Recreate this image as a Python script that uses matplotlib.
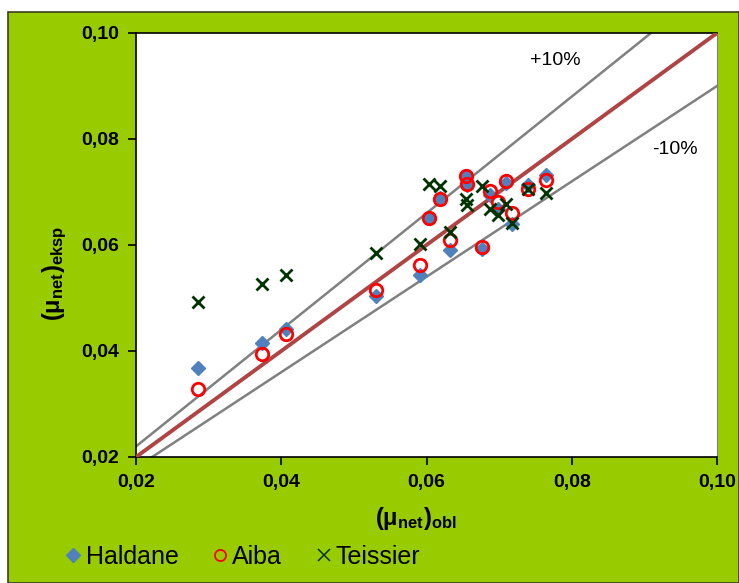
import matplotlib
matplotlib.use("Agg")
import matplotlib.pyplot as plt
from matplotlib.patches import Rectangle
from matplotlib.lines import Line2D
from matplotlib.ticker import FixedLocator, FuncFormatter

plt.rcParams['font.family'] = ['Liberation Sans', 'DejaVu Sans']
plt.rcParams['mathtext.fontset'] = 'custom'
plt.rcParams['mathtext.rm'] = 'Liberation Sans'
plt.rcParams['mathtext.bf'] = 'Liberation Sans:bold'
plt.rcParams['mathtext.it'] = 'Liberation Sans:italic'

# Data
mu_obl = [0.0286, 0.0373, 0.0407, 0.0531, 0.0591, 0.0603, 0.0618, 0.0632, 0.0655,
          0.0656, 0.0676, 0.0687, 0.0699, 0.0709, 0.0718, 0.0740, 0.0764]
haldane = [0.0367, 0.0415, 0.0442, 0.0504, 0.0544, 0.0651, 0.0688, 0.0590, 0.0731,
           0.0714, 0.0592, 0.0695, 0.0667, 0.0717, 0.0639, 0.0714, 0.0733]
aiba = [0.0328, 0.0394, 0.0432, 0.0515, 0.0562, 0.0651, 0.0686, 0.0610, 0.0730,
        0.0716, 0.0597, 0.0701, 0.0682, 0.0720, 0.0661, 0.0706, 0.0723]
teissier = [0.0493, 0.0526, 0.0544, 0.0584, 0.0602, 0.0716, 0.0711, 0.0624, 0.0687,
            0.0676, 0.0711, 0.0667, 0.0656, 0.0678, 0.0642, 0.0706, 0.0699]
series_names = ['Haldane', 'Aiba', 'Teissier']
line_x = [0.02, 0.10]
ticks = [0.02, 0.04, 0.06, 0.08, 0.10]

W, H = 739, 583
fig = plt.figure(figsize=(W / 100, H / 100), dpi=100, facecolor='white')
bg = Rectangle((8 / W, 0), 1 - 8 / W, (H - 12) / H, transform=fig.transFigure,
               facecolor='#99CC00', edgecolor='#3d3d1f', linewidth=1.2, zorder=-10)
fig.patches.append(bg)

ax = fig.add_axes([136 / W, 1 - 457 / H, (717 - 136) / W, (457 - 33) / H])
ax.set_zorder(1)
ax.set_facecolor('white')

ax.plot(line_x, [v * 1.1 for v in line_x], color='#808080', lw=1.8, zorder=2)
ax.plot(line_x, [v * 0.9 for v in line_x], color='#808080', lw=1.8, zorder=2)
ax.plot(line_x, line_x, color='#B04444', lw=2.8, zorder=3)

ax.plot(mu_obl, haldane, linestyle='none', marker='D', markersize=7.5, color='#4F81BD',
        markeredgecolor='#4F81BD', zorder=4)
ax.plot(mu_obl, aiba, linestyle='none', marker='o', markersize=9, markerfacecolor='none',
        markeredgecolor='#FF0000', markeredgewidth=2, zorder=5)
ax.plot(mu_obl, teissier, linestyle='none', marker='x', markersize=9, color='#003300',
        markeredgewidth=2, zorder=6)

ax.set_xlim(0.02, 0.10)
ax.set_ylim(0.02, 0.10)
fmt = FuncFormatter(lambda v, p: f"{v:.2f}".replace('.', ','))
ax.xaxis.set_major_locator(FixedLocator(ticks))
ax.yaxis.set_major_locator(FixedLocator(ticks))
ax.xaxis.set_major_formatter(fmt)
ax.yaxis.set_major_formatter(fmt)
ax.tick_params(direction='out', length=6, width=1.2, labelsize=14, pad=6)
for lab in ax.get_xticklabels() + ax.get_yticklabels():
    lab.set_fontweight('bold')
for s in ['left', 'bottom', 'top']:
    ax.spines[s].set_color('black')
    ax.spines[s].set_linewidth(1.2)
ax.spines['right'].set_color('#808080')

ax.text(0.0777, 0.0949, '+10%', fontsize=14, ha='center', va='center')
ax.text(0.0942, 0.0780, '-10%', fontsize=14, ha='center', va='center')

ax.set_xlabel(r'$\mathbf{(μ_{net})_{obl}}$', fontsize=17)
ax.xaxis.label.set_va('center')
ax.xaxis.set_label_coords((416 - 136) / 581, (457 - 519) / 424)
ax.set_ylabel(r'$\mathbf{(μ_{net})_{eksp}}$', fontsize=17)
ax.yaxis.label.set_va('center')
ax.yaxis.set_label_coords((55 - 136) / 581, (457 - 273) / 424)

handles = [
    Line2D([], [], linestyle='none', marker='D', markersize=7, color='#4F81BD'),
    Line2D([], [], linestyle='none', marker='o', markersize=8, markerfacecolor='none',
           markeredgecolor='#FF0000', markeredgewidth=1.3),
    Line2D([], [], linestyle='none', marker='x', markersize=8, color='#003300',
           markeredgewidth=1.1),
]
leg = fig.legend(handles, series_names, loc='center left', bbox_to_anchor=(52 / W, 1 - 557 / H),
                 ncol=3, frameon=False, fontsize=18, handletextpad=0.05, columnspacing=1.2,
                 handlelength=0.9, borderaxespad=0)
leg.set_zorder(5)

fig.savefig('out.png', dpi=100, facecolor='white')
